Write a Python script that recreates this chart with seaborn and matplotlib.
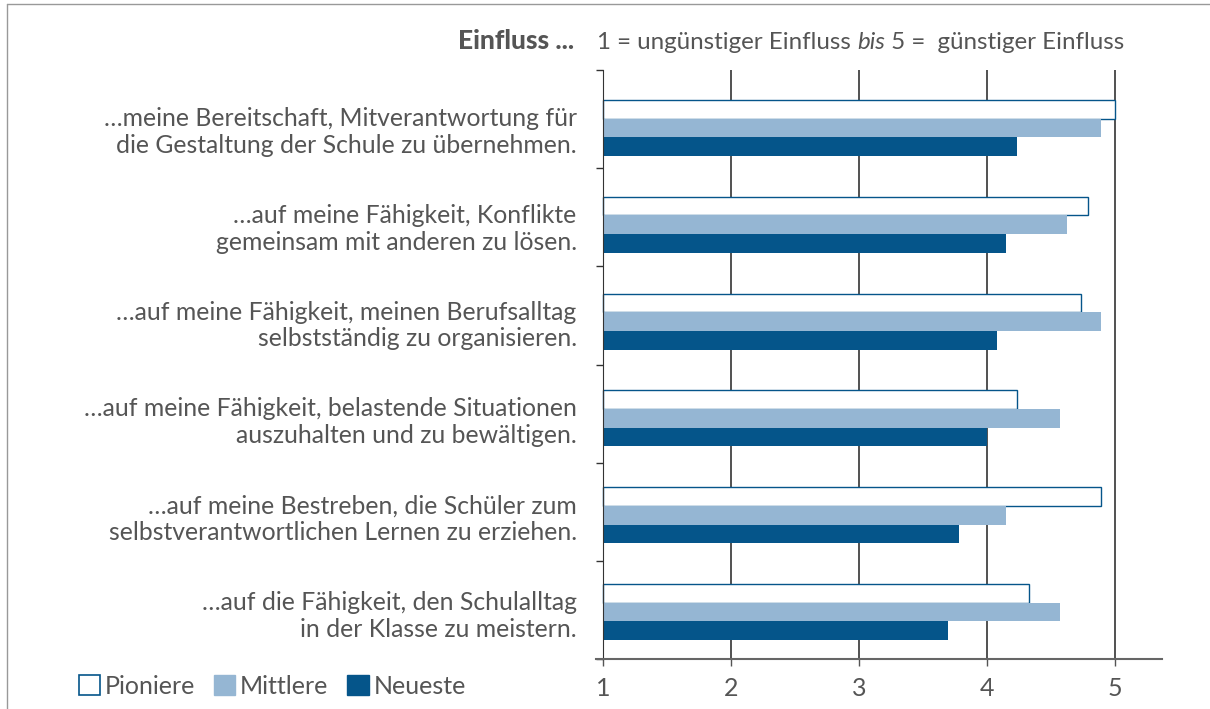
import matplotlib
matplotlib.use("Agg")
import matplotlib.pyplot as plt
from matplotlib.patches import Patch
from matplotlib.lines import Line2D
import numpy as np
import pandas as pd
import seaborn as sns

# data (scale 1..5)
statements = [
    "…meine Bereitschaft, Mitverantwortung für\ndie Gestaltung der Schule zu übernehmen.",
    "…auf meine Fähigkeit, Konflikte\ngemeinsam mit anderen zu lösen.",
    "…auf meine Fähigkeit, meinen Berufsalltag\nselbstständig zu organisieren.",
    "…auf meine Fähigkeit, belastende Situationen\nauszuhalten und zu bewältigen.",
    "…auf meine Bestreben, die Schüler zum\nselbstverantwortlichen Lernen zu erziehen.",
    "…auf die Fähigkeit, den Schulalltag\nin der Klasse zu meistern.",
]
groups = ["Pioniere", "Mittlere", "Neueste"]
pioniere = [5.00, 4.79, 4.74, 4.24, 4.89, 4.33]
mittlere = [4.89, 4.63, 4.89, 4.57, 4.15, 4.57]
neueste = [4.24, 4.15, 4.08, 4.00, 3.78, 3.70]
x_ticks = [1, 2, 3, 4, 5]

# bars start at 1 (scale minimum), so plot the distance from 1
base = 1
df = pd.DataFrame({
    "statement": statements * 3,
    "gruppe": [g for g in groups for _ in statements],
    "wert": [v - base for v in pioniere + mittlere + neueste],
})

dark = "#05558a"
light = "#95b6d3"
grey = "#555555"

sns.set_style("white")
plt.rcParams["font.family"] = ["Lato", "DejaVu Sans"]

fig = plt.figure(figsize=(12.1, 7.09), dpi=100)
ax = fig.add_axes([596 / 1210, 1 - 659 / 709, (1162 - 596) / 1210, (659 - 70) / 709])

sns.barplot(data=df, y="statement", x="wert", hue="gruppe", orient="h",
            palette=["white", light, dark], width=0.58, gap=0,
            saturation=1, legend=False, ax=ax)

# outline for the white Pioniere bars
for bar in ax.containers[0]:
    bar.set_edgecolor(dark)
    bar.set_linewidth(1.0)
for c in ax.containers[1:]:
    for bar in c:
        bar.set_linewidth(0)

ax.set_xlim(0.945 - base, 5.37 - base)
y_top, y_bottom = -0.6, 5.486
ax.set_ylim(y_bottom, y_top)
ax.set_xlabel("")
ax.set_ylabel("")

for v in x_ticks[1:]:
    ax.axvline(v - base, color="#222222", lw=1.1, zorder=0)

ax.set_xticks([v - base for v in x_ticks])
ax.set_xticklabels([str(v) for v in x_ticks])
ax.tick_params(axis="x", length=5, width=1, color=grey, pad=8, direction="out",
               bottom=True, labelsize=18, labelcolor=grey)

ax.set_yticks(range(len(statements)))
ax.set_yticklabels(statements, linespacing=1.07)
ax.set_yticks(np.linspace(y_top, y_bottom, len(statements) + 1), minor=True)
ax.tick_params(axis="y", which="minor", length=5, width=1, color="#333333", left=True)
ax.tick_params(axis="y", which="major", length=0, pad=19, labelsize=17.8, labelcolor=grey)

for s in ["top", "right"]:
    ax.spines[s].set_visible(False)
ax.spines["left"].set_position(("data", 0))
ax.spines["left"].set_color("#333333")
ax.spines["bottom"].set_color("#666666")
ax.spines["bottom"].set_linewidth(1.5)

# title line
ty = 1 - 49 / 709
fig.text(574 / 1210, ty, "Einfluss ...", ha="right", va="baseline",
         fontsize=19, weight="black", color=grey)
t2 = fig.text(597 / 1210, ty, "1 = ungünstiger Einfluss ", ha="left", va="baseline",
              fontsize=17.4, color=grey)
fig.canvas.draw()
r = fig.canvas.get_renderer()
x2 = t2.get_window_extent(r).x1 / fig.bbox.width
t3 = fig.text(x2, ty, "bis", ha="left", va="baseline", fontsize=17.4, style="italic", color=grey)
fig.canvas.draw()
x3 = t3.get_window_extent(r).x1 / fig.bbox.width
fig.text(x3, ty, " 5 =  günstiger Einfluss", ha="left", va="baseline", fontsize=17.4, color=grey)

# legend
handles = [Patch(facecolor="white", edgecolor=dark, linewidth=1.2),
           Patch(facecolor=light, edgecolor=light),
           Patch(facecolor=dark, edgecolor=dark)]
fig.legend(handles, groups, loc="center left", bbox_to_anchor=(56 / 1210, 1 - 686 / 709),
           ncol=3, frameon=False, fontsize=18, handlelength=0.85, handleheight=0.85,
           handletextpad=0.2, columnspacing=0.75, labelcolor=grey)

# frame lines of the original panel
fig.add_artist(Line2D([7 / 1210, 7 / 1210], [0, 1 - 4 / 709], transform=fig.transFigure,
                      color="#999999", lw=1))
fig.add_artist(Line2D([7 / 1210, 1], [1 - 4 / 709, 1 - 4 / 709], transform=fig.transFigure,
                      color="#999999", lw=1))

fig.savefig("out.png", dpi=100)
